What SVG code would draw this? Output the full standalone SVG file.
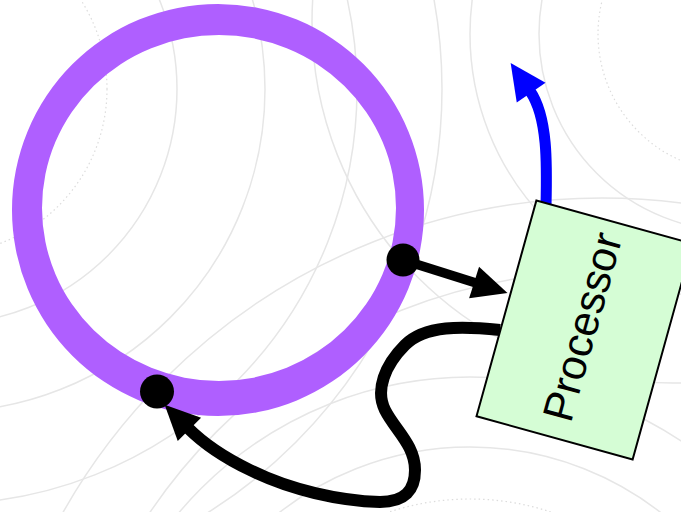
<svg xmlns="http://www.w3.org/2000/svg" width="681" height="512" viewBox="0 0 681 512">
<style>
.bg{fill:none;stroke:#e6e6e6;stroke-width:1.5}
.bgd{fill:none;stroke:#dcdcdc;stroke-width:1.2;stroke-dasharray:1.5 3}
.conn{fill:none;stroke:#000;stroke-linecap:butt}
.conn-blue{fill:none;stroke:#0000ff;stroke-linecap:butt}
.dot{fill:#000}
.box{fill:#d5fdd5;stroke:#000;stroke-width:2}
.lbl{font-family:"Liberation Sans",Arial,sans-serif;font-size:43px;fill:#000}
</style>
<defs>
<marker id="ah" markerUnits="userSpaceOnUse" markerWidth="40" markerHeight="40" refX="0" refY="0" orient="auto" overflow="visible">
<path d="M-2,-16.5 L33,0 L-2,16.5 z" fill="#000"/>
</marker>
<marker id="ahb" markerUnits="userSpaceOnUse" markerWidth="40" markerHeight="40" refX="0" refY="0" orient="auto" overflow="visible">
<path d="M-2,-17.5 L34,0 L-2,17.5 z" fill="#0000ff"/>
</marker>
</defs>
<rect width="681" height="512" fill="#fff"/>
<g id="background">
<circle class="bgd" cx="-58" cy="89" r="165"/>
<circle class="bg" cx="-58" cy="89" r="235"/>
<circle class="bg" cx="-58" cy="89" r="323"/>
<circle class="bg" cx="-58" cy="89" r="415"/>
<circle class="bg" cx="-58" cy="89" r="500"/>
<circle class="bgd" cx="736" cy="34" r="138"/>
<circle class="bg" cx="736" cy="34" r="197"/>
<circle class="bg" cx="736" cy="34" r="266"/>
<circle class="bg" cx="673" cy="22" r="361"/>
<circle class="bgd" cx="470" cy="757" r="258"/>
<circle class="bg" cx="470" cy="757" r="310"/>
<circle class="bg" cx="470" cy="757" r="380"/>
<circle class="bg" cx="602" cy="817" r="545"/>
<circle class="bg" cx="602" cy="817" r="619"/>
</g>
<g id="ring">
<path d="M12,210 A206,206 0 1,0 424,210 A206,206 0 1,0 12,210 Z M42,208 A177,173 0 1,1 396,208 A177,173 0 1,1 42,208 Z" fill="#af5fff" fill-rule="evenodd"/>
</g>
<g id="connectors">
<path class="conn" stroke-width="9.5" d="M403,260 L476,283" marker-end="url(#ah)"/>
<path class="conn" stroke-width="12" d="M500,330 C462,326 425,325 405,345 C385,365 375,390 385,410 C395,430 415,445 415,470 C415,490 405,502 380,502 C340,501 290,490 250,470 C225,458 205,445 188,428" marker-end="url(#ah)"/>
<path class="conn-blue" stroke-width="11" d="M546,206 C547,165 548,117 530,91" marker-end="url(#ahb)"/>
</g>
<g id="ports">
<circle class="dot" cx="403" cy="260" r="16.5"/>
<circle class="dot" cx="157" cy="391.5" r="17"/>
</g>
<g id="processor" transform="rotate(15.5 584.5 330)">
<rect class="box" x="503.5" y="218" width="162" height="224"/>
<text class="lbl" x="587" y="342" text-anchor="middle" transform="rotate(-90 584.5 330)">Processor</text>
</g>
</svg>
